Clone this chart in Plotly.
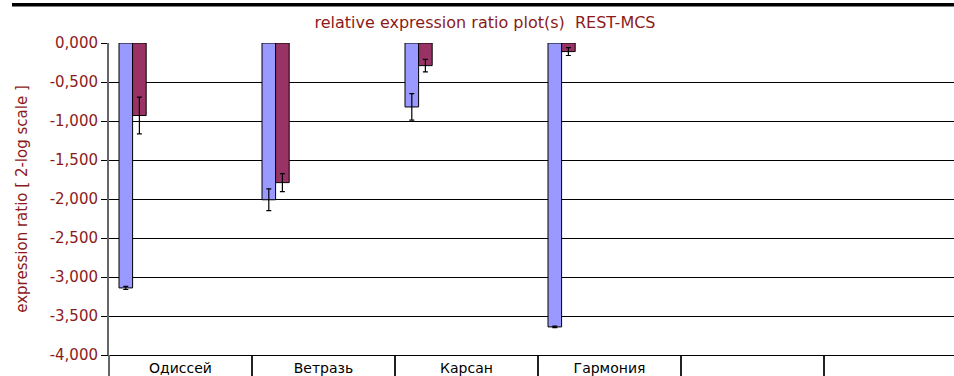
import plotly.graph_objects as go

# Categories along the bottom axis (the last two slots are empty)
categories = ["Одиссей", "Ветразь", "Карсан", "Гармония", "", ""]

# Relative expression ratios (2-log scale) with error half-widths
blue_values = [-3.14, -2.01, -0.82, -3.64]
blue_errors = [0.02, 0.14, 0.17, 0.01]
red_values = [-0.93, -1.79, -0.29, -0.11]
red_errors = [0.235, 0.115, 0.08, 0.05]

# Y-axis ticks
y_ticks = [0.0, -0.5, -1.0, -1.5, -2.0, -2.5, -3.0, -3.5, -4.0]
y_tick_labels = [f"{v:.3f}".replace(".", ",") for v in y_ticks]

TEXT_RED = "#8B1A1A"
FONT = "DejaVu Sans, Verdana, Arial, sans-serif"

positions = list(range(len(blue_values)))
bar_width = 0.095

fig = go.Figure()
fig.add_trace(go.Bar(
    x=positions, y=blue_values, name="Series 1",
    width=bar_width, offset=-0.43,
    marker=dict(color="#9999FF", line=dict(color="black", width=1)),
    error_y=dict(type="data", array=blue_errors, color="black", thickness=1.2, width=2.5),
))
fig.add_trace(go.Bar(
    x=positions, y=red_values, name="Series 2",
    width=bar_width, offset=-0.43 + bar_width,
    marker=dict(color="#993366", line=dict(color="black", width=1)),
    error_y=dict(type="data", array=red_errors, color="black", thickness=1.2, width=2.5),
))

plot_w = 954 - 109
cat_px = 143.0
x_max = -0.5 + plot_w / cat_px

fig.update_layout(
    width=954, height=376,
    margin=dict(l=109, r=0, t=43, b=21),
    paper_bgcolor="white", plot_bgcolor="white",
    barmode="overlay", showlegend=False,
    font=dict(family=FONT),
    title=dict(
        text="relative expression ratio plot(s)  REST-MCS",
        x=485 / 954, xref="container", xanchor="center",
        y=1 - 22 / 376, yref="container", yanchor="middle",
        font=dict(family=FONT, size=16, color=TEXT_RED),
    ),
    xaxis=dict(
        range=[-0.5, x_max],
        tickmode="array", tickvals=list(range(len(categories))), ticktext=categories,
        showgrid=False, zeroline=False,
        showline=True, linecolor="black", linewidth=1,
        ticks="", tickfont=dict(family=FONT, size=14, color="black"),
        minor=dict(
            tickmode="array", tickvals=[i + 0.5 for i in range(len(categories))],
            ticks="outside", ticklen=24, tickwidth=2, tickcolor="#222", showgrid=False,
        ),
    ),
    yaxis=dict(
        range=[-4, 0],
        tickmode="array", tickvals=y_ticks, ticktext=y_tick_labels,
        showgrid=True, gridcolor="black", gridwidth=1, zeroline=False,
        showline=True, linecolor="#666666", linewidth=2,
        ticks="outside", ticklen=6, tickcolor="black", tickwidth=1,
        tickfont=dict(family=FONT, size=15, color=TEXT_RED),
        title=dict(text="expression ratio [ 2-log scale ]", standoff=18,
                   font=dict(family=FONT, size=15, color=TEXT_RED)),
    ),
    shapes=[
        # heavy rule across the top of the page
        dict(type="line", xref="paper", yref="paper",
             x0=(12 - 109) / plot_w, x1=1.02, y0=(355 - 4.7) / 312, y1=(355 - 4.7) / 312,
             line=dict(color="black", width=3.5)),
        # value axis continues down through the category strip
        dict(type="line", xref="paper", yref="paper",
             x0=0, x1=0, y0=-21 / 312 - 0.02, y1=0,
             line=dict(color="#666666", width=2)),
    ],
)

fig.write_html("out.html")
